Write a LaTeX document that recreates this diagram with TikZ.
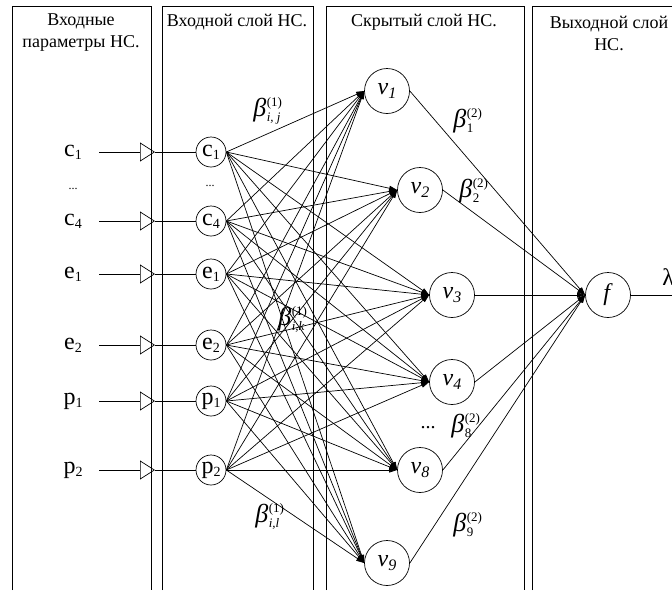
\documentclass[tikz,border=0pt]{standalone}
\usepackage{fontspec}
\setmainfont{Liberation Serif}
\usetikzlibrary{arrows.meta}
\newcommand\bsym[2]{{\fontsize{26}{26}\selectfont\itshape β}\kern0.5pt\rlap{\raisebox{10pt}{\fontsize{13}{13}\selectfont #1}}\raisebox{-5pt}{\fontsize{13}{13}\selectfont #2}}
\newcommand\isub[2]{#1\raisebox{-3pt}{\fontsize{14}{14}\selectfont #2}}
\newcommand\vsub[1]{\textit{v}\raisebox{-4pt}{\fontsize{16}{16}\selectfont\itshape #1}}
\begin{document}
\begin{tikzpicture}[x=1pt,y=-1pt,line width=0.7pt,
  hdr/.style={font=\fontsize{18}{22}\selectfont,align=center,inner sep=0pt},
  inode/.style={circle,draw,minimum size=30pt,inner sep=0pt,font=\fontsize{24}{24}\selectfont},
  hnode/.style={circle,draw,minimum size=45pt,inner sep=0pt,font=\fontsize{24}{24}\selectfont},
  lab/.style={font=\fontsize{24}{24}\selectfont,inner sep=0pt},
  feed/.style={-{Triangle[open,length=15pt,width=19pt]}},
  conn/.style={-{Triangle[length=8pt,width=5pt]}},
  panel/.style={line width=0.8pt},
  wlab/.style={inner sep=0pt,anchor=base west},
  dots/.style={inner sep=0pt,font=\fontsize{12}{12}\selectfont}
]
\useasboundingbox (0,0) rectangle (672,590);
% panels
\draw[panel] (12,590) -- (12,6) -- (151,6) -- (151,590);
\draw[panel] (162,590) -- (162,6) -- (313,6) -- (313,590);
\draw[panel] (326,590) -- (326,6) -- (524,6) -- (524,590);
\draw[panel] (532,590) -- (532,6) -- (700,6);
% headers
\node[hdr] (h1) at (81,33) {Входные\\параметры НС.};
\node[hdr] (h2) at (237,22) {Входной слой НС.};
\node[hdr] (h3) at (424,22) {Скрытый слой НС.};
\node[hdr] (h4) at (609,33) {Выходной слой\\НС.};
% inputs
\foreach \n/\l/\d/\y in {c1/c/1/152, c4/c/4/221, e1/e/1/274, e2/e/2/345, p1/p/1/401, p2/p/2/470} {
  \node[lab] (L\n) at (73,\y) {\isub{\l}{\d}};
  \coordinate (S\n) at (99,\y);
  \coordinate (T\n) at (155,\y);
  \node[inode] (\n) at (211,\y) {\isub{\l}{\d}};
  \draw[feed] (S\n) -- (T\n);
  \draw (T\n) -- (\n);
}
\node[dots] (d1) at (73,189) {...};
\node[dots] (d2) at (210,186) {...};
% hidden
\node[hnode] (v1) at (387,91) {\vsub{1}};
\node[hnode] (v2) at (420,190) {\vsub{2}};
\node[hnode] (v3) at (452,295) {\vsub{3}};
\node[hnode] (v4) at (452,382) {\vsub{4}};
\node[hnode] (v8) at (420,470) {\vsub{8}};
\node[hnode] (v9) at (387,563) {\vsub{9}};
\node[inner sep=0pt,font=\fontsize{20}{20}\selectfont] (d3) at (428,428) {...};
% output
\node[hnode] (f) at (608,295) {\textit{f}};
\coordinate (out) at (680,295);
\draw (f.east) -- (out);
\node[wlab,font=\fontsize{24}{24}\selectfont] (lam) at (662,285) {λ};
% connections
\foreach \a in {c1,c4,e1,e2,p1,p2}
  \foreach \b in {v1,v2,v3,v4,v8,v9}
    \draw[conn] (\a.east) -- (\b.west);
\foreach \b in {v1,v2,v3,v4,v8,v9}
  \draw[conn] (\b.east) -- (f.west);
% weight labels
\node[wlab] (b1) at (253,116) {\bsym{(1)}{\itshape i, j}};
\node[wlab] (b2) at (278,325) {\bsym{(1)}{\itshape i,k}};
\node[wlab] (b3) at (255,522) {\bsym{(1)}{\itshape i,l}};
\node[wlab] (b4) at (453,127) {\bsym{(2)}{1}};
\node[wlab] (b5) at (459,197) {\bsym{(2)}{2}};
\node[wlab] (b6) at (451,432) {\bsym{(2)}{8}};
\node[wlab] (b7) at (453,531) {\bsym{(2)}{9}};
\end{tikzpicture}
\end{document}
